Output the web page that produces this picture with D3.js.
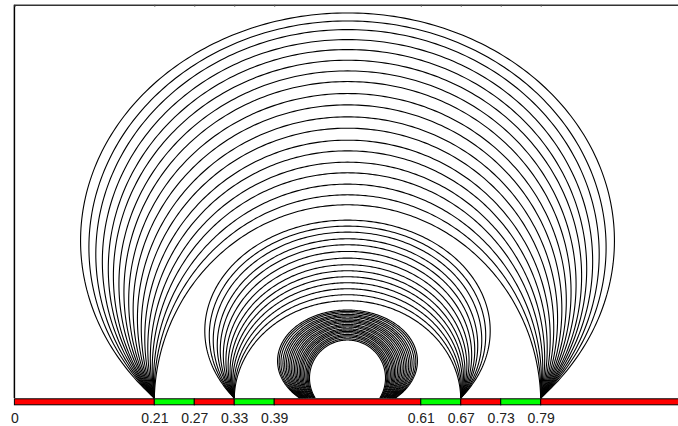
<!DOCTYPE html>
<html>
<head>
<meta charset="utf-8">
<script src="https://cdn.jsdelivr.net/npm/d3@7"></script>
<style>
  body { margin: 0; background: #fff; }
  svg { display: block; }
</style>
</head>
<body>
<script>
// tick labels on the strip
var tickValues = [0, 0.21, 0.27, 0.33, 0.39, 0.61, 0.67, 0.73, 0.79];

// coloured strip under the plot
var segStart = [0, 0.21, 0.27, 0.33, 0.39, 0.61, 0.67, 0.73, 0.79];
var segEnd   = [0.21, 0.27, 0.33, 0.39, 0.61, 0.67, 0.73, 0.79, 1];
var segKind  = ["r", "g", "r", "g", "r", "g", "r", "g", "r"];

// outer family (feet at 0.21 / 0.79): top height, centre height of each arc
var outerFeet = [0.21, 0.79];
var outerTop = [0.578, 0.566, 0.553, 0.538, 0.523, 0.507, 0.491, 0.475, 0.457, 0.440,
                0.422, 0.405, 0.387, 0.371, 0.354, 0.338, 0.321, 0.305, 0.290];
var outerCenter = [0.236, 0.226, 0.216, 0.205, 0.194, 0.183, 0.171, 0.159, 0.146, 0.133,
                   0.119, 0.105, 0.090, 0.075, 0.059, 0.043, 0.026, 0.009, -0.008];

// middle family (feet at 0.33 / 0.67)
var middleFeet = [0.33, 0.67];
var middleTop = [0.267, 0.258, 0.249, 0.239, 0.230, 0.220, 0.210, 0.200, 0.191, 0.182,
                 0.173, 0.164, 0.155, 0.146];
var middleCenter = [0.101, 0.094, 0.087, 0.079, 0.072, 0.064, 0.056, 0.048, 0.040, 0.032,
                    0.024, 0.015, 0.006, -0.003];

// inner family round the hole: feet, top and centre height of each arc
var innerFootL = [0.428, 0.429, 0.430, 0.4315, 0.4325, 0.4335, 0.435, 0.436, 0.437, 0.438, 0.4395,
                  0.4405, 0.4415, 0.443, 0.444, 0.445, 0.446, 0.4475, 0.4485, 0.4495, 0.4505, 0.4515];
var innerFootR = [0.572, 0.571, 0.570, 0.5685, 0.5675, 0.5665, 0.565, 0.564, 0.563, 0.562, 0.5605,
                  0.5595, 0.5585, 0.557, 0.556, 0.555, 0.554, 0.5525, 0.5515, 0.5505, 0.5495, 0.5485];
var innerTop = [0.132, 0.130, 0.128, 0.1255, 0.1235, 0.1215, 0.119, 0.117, 0.115, 0.113, 0.1105,
                0.1085, 0.1065, 0.104, 0.102, 0.100, 0.098, 0.0955, 0.0935, 0.0915, 0.089, 0.087];
var innerCenter = [0.0556, 0.0545, 0.0533, 0.052, 0.0508, 0.0496, 0.0484, 0.0472, 0.046, 0.0447, 0.0435,
                   0.0423, 0.041, 0.0398, 0.0386, 0.0374, 0.0362, 0.035, 0.0337, 0.0325, 0.0313, 0.030];

var width = 678, height = 426;
var plotLeft = 14.4, plotRight = 680.6, plotTop = 4.7, plotBase = 398;

var x = d3.scaleLinear().domain([0, 1]).range([plotLeft, plotRight]);
var y = d3.scaleLinear().domain([0, (plotBase - plotTop) / (plotRight - plotLeft)]).range([plotBase, plotTop]);

var svg = d3.select("body").append("svg")
    .attr("width", width)
    .attr("height", height);

// one arc = part of an ellipse through both feet, given its top and centre height
function footArc(a, b, h, c) {
    var cx = (a + b) / 2, f = (b - a) / 2;
    var bb = h - c;
    var w = f / Math.sqrt(1 - (c / bb) * (c / bb));
    var t0 = Math.asin(-c / bb), t1 = Math.PI - t0;
    var pts = [];
    for (var i = 0; i <= 240; i++) {
        var t = t0 + (t1 - t0) * i / 240;
        pts.push([cx + w * Math.cos(t), c + bb * Math.sin(t)]);
    }
    return pts;
}

var line = d3.line().x(d => x(d[0])).y(d => y(d[1]));

var arcs = [];
outerTop.forEach(function (h, i) { arcs.push(footArc(outerFeet[0], outerFeet[1], h, outerCenter[i])); });
middleTop.forEach(function (h, i) { arcs.push(footArc(middleFeet[0], middleFeet[1], h, middleCenter[i])); });
innerTop.forEach(function (h, i) { arcs.push(footArc(innerFootL[i], innerFootR[i], h, innerCenter[i])); });

svg.append("g").selectAll("path")
    .data(arcs)
    .enter().append("path")
    .attr("d", line)
    .attr("fill", "none")
    .attr("stroke", "#000")
    .attr("stroke-width", 1.1);

// frame: left and top (right edge falls outside the window)
svg.append("line")
    .attr("x1", plotLeft).attr("x2", plotLeft).attr("y1", plotTop).attr("y2", plotBase)
    .attr("stroke", "#000").attr("stroke-width", 1.5);

var topAxis = d3.axisTop(x).tickValues(tickValues.slice(1)).tickSize(-2).tickFormat("");
svg.append("g")
    .attr("transform", "translate(0," + plotTop + ")")
    .call(topAxis)
    .call(g => g.select(".domain").attr("stroke", "#333").attr("stroke-width", 1.4))
    .call(g => g.selectAll(".tick line").attr("stroke", "#555"));

// strip
svg.append("g").selectAll("rect")
    .data(segStart)
    .enter().append("rect")
    .attr("x", d => x(d))
    .attr("width", (d, i) => x(segEnd[i]) - x(d))
    .attr("y", plotBase + 0.8)
    .attr("height", 6)
    .attr("fill", (d, i) => segKind[i] == "r" ? "#ff0000" : "#00ff00")
    .attr("stroke", "#000")
    .attr("stroke-width", 1);

var bottomAxis = d3.axisBottom(x).tickValues(tickValues).tickSize(0).tickPadding(15)
    .tickFormat(d => d === 0 ? "0" : d3.format(".2f")(d));
svg.append("g")
    .attr("transform", "translate(0," + (plotBase + 0.5) + ")")
    .call(bottomAxis)
    .call(g => g.select(".domain").remove())
    .call(g => g.selectAll("text")
        .attr("font-family", "Liberation Sans, Arial, sans-serif")
        .attr("font-size", 14)
        .attr("fill", "#222"));
</script>
</body>
</html>
